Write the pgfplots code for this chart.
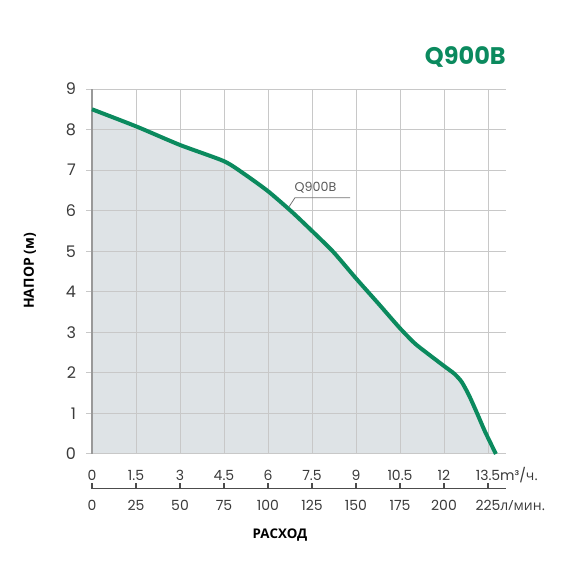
\documentclass[border=0pt]{standalone}
\usepackage{pgfplots}
\pgfplotsset{compat=1.18}
\usepackage{fontspec}
\setmainfont{Poppins}
\newfontfamily\cyr{Open Sans}
\definecolor{curvegreen}{HTML}{0B8A5E}
\definecolor{areafill}{HTML}{DEE3E6}
\definecolor{gridgray}{HTML}{C8C8C8}
\definecolor{labelgray}{HTML}{3A3A3A}

\begin{document}
\begin{tikzpicture}
% canvas 570 x 570 px, 1 px = 0.75 pt
\path (0,0) rectangle (427.5pt,427.5pt);

\begin{axis}[
    at={(69pt,87pt)}, anchor=south west,
    scale only axis,
    width=310.2pt, height=273.75pt,
    xmin=0, xmax=14.1, ymin=0, ymax=9,
    set layers=standard,
    clip=false,
    axis x line*=bottom, axis y line*=left,
    x axis line style={draw=gridgray, line width=0.75pt},
    y axis line style={draw=black!40, line width=1.1pt},
    xtick={0,1.5,...,13.5},
    xticklabels={0,1.5,3,4.5,6,7.5,9,10.5,12,13.5\rlap{\smash{m³/{\cyr ч.}}}},
    ytick={0,1,...,9},
    grid=major,
    major grid style={gridgray, line width=0.75pt},
    x tick style={draw=none},
    y tick style={draw=gridgray, line width=0.75pt},
    tick align=outside,
    major tick length=4.5pt,
    /pgf/number format/assume math mode=true,
    tick label style={text=labelgray},
    xticklabel style={font=\fontsize{10.5}{12}\selectfont, yshift=-4pt},
    yticklabel style={font=\fontsize{12}{14}\selectfont, xshift=-4pt},
]
\addplot[fill=areafill, draw=none, on layer=axis background] coordinates {
    (0,8.5) (1.5,8.08) (3,7.62) (4.5,7.22) (5.2,6.9) (6,6.48) (6.8,5.98)
    (7.5,5.5) (8.23,4.98) (9,4.33) (9.75,3.72) (10.5,3.1) (11,2.73)
    (11.4,2.5) (12,2.17) (12.35,1.98) (12.6,1.78) (12.85,1.45) (13.1,1.05)
    (13.4,0.55) (13.77,0)
} \closedcycle;
\addplot[curvegreen, line width=3pt, smooth, tension=0.4] coordinates {
    (0,8.5) (1.5,8.08) (3,7.62) (4.5,7.22) (5.2,6.9) (6,6.48) (6.8,5.98)
    (7.5,5.5) (8.23,4.98) (9,4.33) (9.75,3.72) (10.5,3.1) (11,2.73)
    (11.4,2.5) (12,2.17) (12.35,1.98) (12.6,1.78) (12.85,1.45) (13.1,1.05)
    (13.4,0.55) (13.77,0)
};
\draw[black!55, line width=0.6pt] (axis cs:6.72,6.1) -- (axis cs:6.92,6.32) -- (axis cs:8.8,6.32);
\node[anchor=base west, inner sep=0pt, text=black!65, font=\fontsize{9.5}{11}\selectfont]
    at (axis cs:6.9,6.48) {Q900B};
\end{axis}

% second scale: litres per minute
\begin{axis}[
    at={(69pt,61pt)}, anchor=south west,
    scale only axis,
    width=310.2pt, height=1pt,
    xmin=0, xmax=14.1, ymin=0, ymax=1,
    hide y axis,
    axis x line*=bottom,
    x axis line style={draw=black!70, line width=1pt},
    xtick={0,1.5,...,13.5},
    xticklabels={0,25,50,75,100,125,150,175,200,225\rlap{\smash{\cyr л/мин.}}},
    x tick style={draw=black!70, line width=1pt},
    tick align=inside,
    major tick length=4.5pt,
    xticklabel style={text=labelgray, font=\fontsize{10.5}{12}\selectfont, yshift=-5pt},
]
\end{axis}

\node[anchor=base east, inner sep=0pt, text=curvegreen, font=\fontsize{18}{21}\bfseries]
    at (379.5pt,379.1pt) {Q900B};
\node[anchor=base, inner sep=0pt, font=\cyr\bfseries\fontsize{10}{12}\selectfont]
    at (210pt,23.5pt) {РАСХОД};
\node[rotate=90, inner sep=0pt, font=\cyr\bfseries\fontsize{10.5}{12}\selectfont]
    at (22.5pt,224.3pt) {НАПОР (м)};
\end{tikzpicture}
\end{document}
